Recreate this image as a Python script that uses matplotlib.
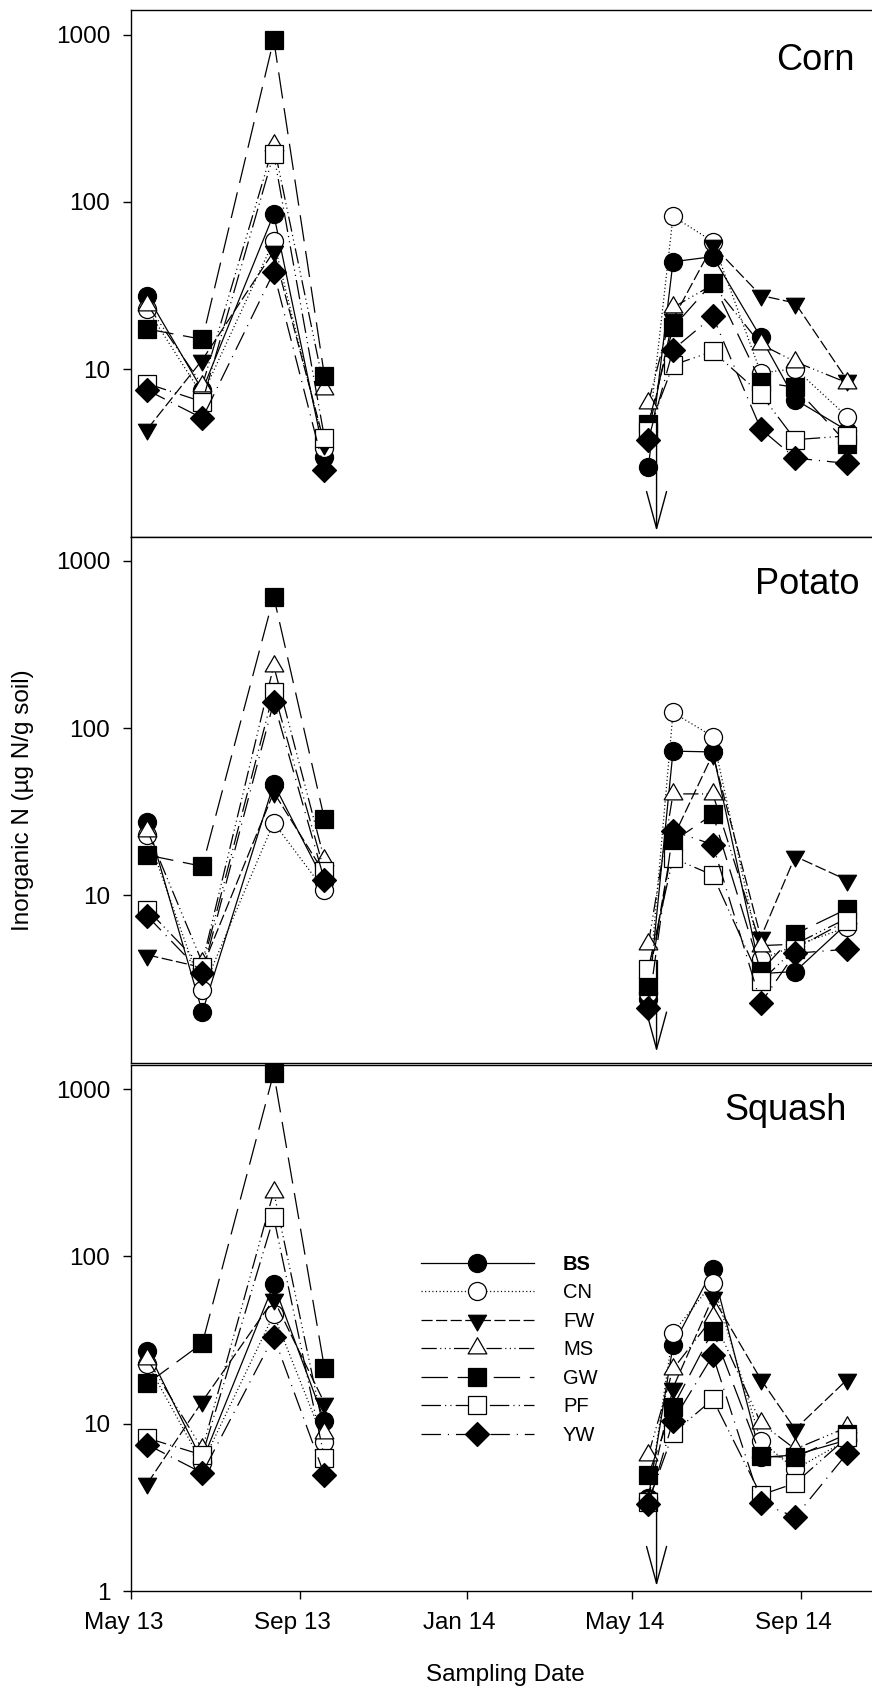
import datetime as dt
import matplotlib
matplotlib.use("Agg")
import matplotlib.pyplot as plt
import matplotlib.dates as mdates
import matplotlib.transforms as mtransforms
from matplotlib.path import Path
from matplotlib.ticker import FixedLocator, FixedFormatter

plt.rcParams["font.family"] = ["Liberation Sans", "DejaVu Sans"]
plt.rcParams["lines.scale_dashes"] = False

# Sampling dates (2013 and 2014 seasons)
dates = [dt.date(2013, 5, 13), dt.date(2013, 6, 22), dt.date(2013, 8, 13), dt.date(2013, 9, 19),
         dt.date(2014, 5, 13), dt.date(2014, 5, 31), dt.date(2014, 6, 29), dt.date(2014, 8, 3),
         dt.date(2014, 8, 28), dt.date(2014, 10, 5)]
n_2013 = 4

treatments = ["BS", "CN", "FW", "MS", "GW", "PF", "YW"]

# Inorganic N (ug N / g soil) per treatment
corn = {
    "BS": [27.3, 7.5, 84.5, 3.0, 2.6, 43.9, 47.1, 15.5, 6.6, 4.3],
    "CN": [22.8, 7.0, 58.3, 3.4, 4.0, 82.0, 58.0, 9.5, 10.1, 5.2],
    "FW": [4.4, 11.4, 50.6, 3.6, 4.2, 20.0, 55.0, 27.6, 24.9, 8.6],
    "MS": [24.3, 8.0, 220.0, 7.6, 6.3, 23.4, 32.0, 14.1, 11.1, 8.3],
    "GW": [17.4, 15.1, 933.0, 9.1, 4.7, 17.8, 33.0, 8.4, 7.8, 3.6],
    "PF": [8.2, 6.4, 194.0, 3.9, 4.3, 10.6, 12.8, 7.1, 3.8, 4.0],
    "YW": [7.5, 5.1, 38.0, 2.5, 3.8, 13.1, 20.7, 4.4, 2.95, 2.74],
}
potato = {
    "BS": [27.3, 2.0, 46.4, 12.0, 2.4, 72.8, 72.0, 3.4, 3.5, 6.8],
    "CN": [22.8, 2.7, 27.2, 10.7, 2.6, 124.0, 89.0, 4.14, 5.0, 6.44],
    "FW": [4.4, 3.7, 41.3, 13.5, 3.0, 22.0, 69.9, 5.6, 17.1, 12.3],
    "MS": [24.3, 3.95, 236.0, 16.3, 5.1, 40.4, 40.4, 5.0, 5.1, 7.3],
    "GW": [17.4, 14.9, 611.0, 28.5, 2.85, 21.0, 30.5, 3.52, 5.87, 8.3],
    "PF": [8.2, 3.74, 165.0, 13.9, 3.64, 16.7, 13.2, 3.06, 4.8, 7.06],
    "YW": [7.5, 3.41, 143.0, 12.3, 2.11, 24.2, 20.1, 2.27, 4.5, 4.76],
}
squash = {
    "BS": [27.3, 6.0, 68.2, 10.4, 3.6, 29.4, 83.6, 6.3, 6.5, 8.0],
    "CN": [22.8, 5.8, 45.0, 7.74, 3.5, 35.0, 69.7, 7.87, 5.35, 8.0],
    "FW": [4.4, 13.6, 55.4, 13.3, 3.6, 16.4, 56.9, 18.4, 9.27, 18.4],
    "MS": [24.3, 7.05, 244.0, 8.77, 6.5, 21.2, 43.2, 10.1, 7.05, 9.53],
    "GW": [17.4, 30.3, 1250.0, 21.5, 4.93, 12.6, 36.0, 6.38, 6.3, 8.7],
    "PF": [8.2, 6.5, 171.0, 6.25, 3.4, 8.77, 14.0, 3.75, 4.41, 8.3],
    "YW": [7.5, 5.07, 33.2, 4.93, 3.3, 10.4, 25.6, 3.36, 2.77, 6.67],
}
crop_names = ["Corn", "Potato", "Squash"]

# Planting arrows: (start value, tip value)
planting_date = dt.date(2014, 5, 19)
arrow_ranges = [(5.0, 1.08), (4.0, 1.16), (3.4, 1.07)]

# Equilateral triangle markers
tri_up = Path([(0, 0.577), (-0.5, -0.289), (0.5, -0.289), (0, 0.577)],
              [Path.MOVETO, Path.LINETO, Path.LINETO, Path.CLOSEPOLY])
tri_down = Path([(0, -0.577), (-0.5, 0.289), (0.5, 0.289), (0, -0.577)],
                [Path.MOVETO, Path.LINETO, Path.LINETO, Path.CLOSEPOLY])

styles = {
    "BS": dict(marker="o", mfc="black", ms=13, ls="-"),
    "CN": dict(marker="o", mfc="white", ms=13, ls=(0, (0.8, 1.8))),
    "FW": dict(marker=tri_down, mfc="black", ms=15, ls=(0, (8, 2.5))),
    "MS": dict(marker=tri_up, mfc="white", ms=15.5,
               ls=(0, (11, 2.5, 0.8, 2.5, 0.8, 2.5, 0.8, 2.5))),
    "GW": dict(marker="s", mfc="black", ms=12.5, ls=(0, (19, 7))),
    "PF": dict(marker="s", mfc="white", ms=12.5, ls=(0, (14, 3, 0.8, 3, 0.8, 3))),
    "YW": dict(marker="D", mfc="black", ms=12, ls=(0, (14, 5, 0.8, 5))),
}

W, H = 872, 1686
fig = plt.figure(figsize=(W / 100, H / 100), dpi=100)

left_px = 131
panels_px = [(10.3, 536.7), (536.7, 1062.5), (1065.0, 1591.0)]
xmin = dt.date(2013, 5, 1)
xmax = dt.date(2014, 10, 23)
ylim = (1.0, 1395.0)
title_pos = [(0.977, 0.8866), (0.9825, 0.891), (0.9658, 0.8954)]

axes = []
for i, (crop, data) in enumerate(zip(crop_names, [corn, potato, squash])):
    top, bot = panels_px[i]
    ax = fig.add_axes([left_px / W, 1 - bot / H, (W - left_px) / W, (bot - top) / H])
    axes.append(ax)
    lines = []
    for t in treatments:
        st = styles[t]
        kw = dict(color="black", lw=0.9, linestyle=st["ls"], marker=st["marker"],
                  markersize=st["ms"], markerfacecolor=st["mfc"], markeredgecolor="black",
                  markeredgewidth=0.9, clip_on=False)
        # each season is drawn as its own connected series
        ln, = ax.plot(dates[:n_2013], data[t][:n_2013], label=t, **kw)
        ax.plot(dates[n_2013:], data[t][n_2013:], **kw)
        lines.append(ln)
    ax.set_yscale("log")
    ax.set_ylim(*ylim)
    ax.set_xlim(xmin, xmax)
    ax.spines["right"].set_visible(False)
    for sp in ["left", "top", "bottom"]:
        ax.spines[sp].set_linewidth(1.0)
    yt = [1, 10, 100, 1000] if i == 2 else [10, 100, 1000]
    ax.yaxis.set_major_locator(FixedLocator(yt))
    ax.yaxis.set_major_formatter(FixedFormatter([str(v) for v in yt]))
    ax.yaxis.set_minor_locator(FixedLocator([]))
    ax.tick_params(axis="y", direction="out", length=6, width=1.0, pad=9, labelsize=17.5)
    ax.xaxis.set_major_locator(mdates.MonthLocator(bymonth=[1, 5, 9]))
    ax.xaxis.set_major_formatter(mdates.DateFormatter("%b %y"))
    if i < 2:
        ax.tick_params(axis="x", bottom=False, labelbottom=False)
    else:
        ax.tick_params(axis="x", direction="out", length=6, width=1.0, pad=9, labelsize=17.5)
    ax.text(title_pos[i][0], title_pos[i][1], crop, transform=ax.transAxes,
            ha="right", va="baseline", fontsize=26)
    start, tip = arrow_ranges[i]
    ax.annotate("", xy=(planting_date, tip), xytext=(planting_date, start),
                arrowprops=dict(arrowstyle="->,head_length=2.66,head_width=0.72",
                                color="black", lw=1.0, shrinkA=0, shrinkB=0,
                                mutation_scale=10))

ax3 = axes[2]
# date labels sit slightly left of their ticks
shift = mtransforms.ScaledTranslation(-7.5 / 100, 0, fig.dpi_scale_trans)
for lab in ax3.get_xticklabels():
    lab.set_transform(lab.get_transform() + shift)

leg = ax3.legend(handles=lines, labels=treatments, loc="upper left",
                 bbox_to_anchor=(421 / W, 1 - 1255 / H), bbox_transform=fig.transFigure,
                 frameon=False, fontsize=14.5, handlelength=5.6, handletextpad=1.45,
                 labelspacing=0.47, borderpad=0, borderaxespad=0, numpoints=1)
leg.get_texts()[0].set_fontweight("bold")

ax3.set_xlabel("Sampling Date", fontsize=17.5, va="top")
ax3.xaxis.set_label_coords((505.8 - left_px) / (W - left_px), (1591 - 1664) / 526.0)
fig.text(23.3 / W, 1 - 800 / H, "Inorganic N (\u00b5g N/g soil)", rotation=90,
         ha="center", va="center", fontsize=17.5)

fig.savefig("out.png", dpi=100)
